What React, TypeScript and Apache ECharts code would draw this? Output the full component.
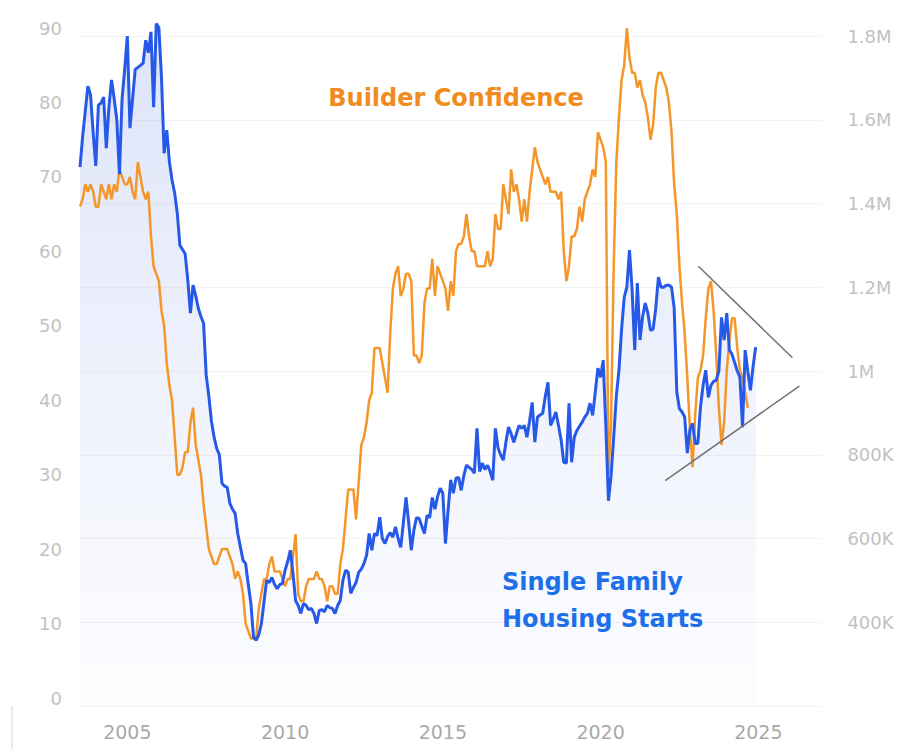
import React, { useEffect, useRef } from 'react';
import * as echarts from 'echarts';

// Monthly series, first value = July 2003
const START_YEAR = 2003;
const START_MONTH = 7;

// NAHB builder confidence index (left axis)
const builderConfidence = [
  66, 67, 69, 68, 69, 68, 66, 66, 69, 68, 67, 69,
  67, 69, 68, 71, 70, 69, 69, 70, 68, 67, 72, 70,
  68, 67, 68, 62, 58, 57, 56, 52, 50, 45, 42, 40,
  35, 30, 30, 31, 33, 33, 37, 39, 34, 32, 30, 26,
  23, 20, 19, 18, 18, 19, 20, 20, 20, 19, 18, 16,
  17, 16, 14, 10, 9, 8, 8, 8, 12, 14, 16, 16,
  18, 19, 17, 17, 17, 16, 15, 16, 16, 19, 22, 14,
  13, 13, 15, 16, 16, 16, 17, 16, 16, 15, 13, 15,
  15, 14, 14, 18, 20, 24, 28, 28, 28, 24, 29, 34,
  35, 37, 40, 41, 47, 47, 47, 45, 43, 41, 49, 55,
  57, 58, 54, 55, 57, 57, 56, 46, 46, 45, 46, 53,
  55, 55, 59, 54, 58, 57, 56, 55, 52, 56, 54, 60,
  61, 61, 62, 65, 62, 60, 60, 58, 58, 58, 58, 60,
  58, 59, 65, 63, 63, 69, 67, 65, 71, 68, 69, 67,
  64, 67, 64, 68, 71, 74, 72, 71, 70, 69, 70, 68,
  68, 68, 67, 68, 60, 56, 58, 62, 62, 63, 66, 64,
  67, 68, 69, 71, 70, 76, 75, 74, 72, 30, 37, 58,
  72, 78, 83, 85, 90, 86, 84, 84, 82, 83, 81, 80,
  78, 75, 77, 82, 84, 84, 83, 82, 80, 76, 69, 65,
  58, 53, 49, 43, 36, 31, 38, 43, 44, 46, 51, 55,
  56, 52, 46, 39, 34, 37, 44, 48, 51, 51, 47, 44,
  43, 41, 39,
];

// Single family housing starts, thousands (right axis)
const singleFamilyStartsK = [
  1487, 1560, 1620, 1680, 1660, 1570, 1490, 1635, 1640, 1654, 1532, 1630,
  1695, 1650, 1600, 1470, 1650, 1720, 1800, 1580, 1650, 1720, 1725, 1730,
  1735, 1790, 1760, 1810, 1630, 1830, 1820, 1700, 1520, 1575, 1500, 1456,
  1425, 1377, 1300, 1290, 1280, 1217, 1138, 1205, 1180, 1150, 1130, 1114,
  990, 940, 880, 842, 815, 800, 732, 725, 722, 684, 670, 660,
  612, 580, 548, 540, 490, 445, 364, 357, 370, 397, 450, 500,
  495, 507, 490, 480, 490, 493, 524, 545, 572, 517, 452, 440,
  421, 445, 440, 430, 433, 421, 397, 428, 430, 425, 440, 435,
  433, 421, 440, 452, 500, 524, 520, 469, 483, 495, 519, 527,
  540, 560, 612, 572, 612, 607, 651, 600, 588, 605, 614, 603,
  628, 600, 579, 638, 698, 640, 572, 620, 650, 648, 630, 612,
  655, 650, 698, 670, 700, 720, 708, 588, 667, 740, 708, 744,
  746, 715, 750, 775, 770, 765, 756, 863, 760, 780, 765, 775,
  760, 739, 863, 816, 800, 787, 830, 866, 850, 830, 850, 870,
  863, 870, 842, 880, 925, 830, 890, 895, 899, 940, 973, 870,
  885, 902, 870, 835, 782, 780, 923, 782, 842, 858, 868, 878,
  890, 899, 923, 894, 950, 1007, 985, 1026, 870, 690, 750, 842,
  940, 1002, 1100, 1176, 1200, 1289, 1193, 1050, 1210, 1074, 1130, 1162,
  1138, 1097, 1100, 1150, 1224, 1200, 1200, 1205, 1205, 1200, 1150, 950,
  910, 902, 890, 804, 860, 875, 827, 827, 913, 966, 1002, 937,
  966, 975, 978, 1000, 1128, 1074, 1138, 1050, 1040, 1020, 1000, 985,
  866, 1050, 1000, 954, 1010, 1057,
];

const xTickYears = [2005, 2010, 2015, 2020, 2025];
const xRange = [2003.5, 2027];
const leftAxis = { min: 0, max: 90, interval: 10 };
const rightAxis = { min: 200000, max: 1800000, interval: 200000 };

// Triangle (converging trend) annotation, in [year, confidence] units
const trendUpper = [[2023.1, 58.0], [2026.08, 45.7]];
const trendLower = [[2022.05, 29.2], [2026.3, 41.9]];

const labelBuilder = 'Builder Confidence';
const labelStarts = ['Single Family', 'Housing Starts'];

const ORANGE = '#f5962a';
const BLUE = '#2759e8';
const FONT = '"DejaVu Sans", Verdana, sans-serif';

const toYear = (i: number) => START_YEAR + (START_MONTH - 1 + i) / 12;

export default function App() {
  const ref = useRef<HTMLDivElement>(null);

  useEffect(() => {
    if (!ref.current) return;
    const chart = echarts.init(ref.current, null, { renderer: 'svg' });

    const orangeData = builderConfidence.map((v, i) => [toYear(i), v]);
    const blueData = singleFamilyStartsK.map((v, i) => [toYear(i), v * 1000]);

    const option: any = {
      animation: false,
      backgroundColor: '#ffffff',
      grid: [
        { left: 80, top: 28, width: 741.4, height: 670, containLabel: false, outerBoundsMode: 'none' },
        { left: 80, top: 36, width: 741.4, height: 670, containLabel: false, outerBoundsMode: 'none' },
      ],
      xAxis: [
        {
          gridIndex: 0,
          type: 'value',
          min: xRange[0],
          max: xRange[1],
          axisLine: { show: false },
          axisTick: { show: false },
          splitLine: { show: false },
          axisLabel: {
            customValues: xTickYears,
            formatter: (v: number) => String(Math.round(v)),
            margin: 24,
            color: '#a9a9a9',
            fontSize: 19,
            fontFamily: FONT,
          },
        },
        {
          gridIndex: 1,
          type: 'value',
          min: xRange[0],
          max: xRange[1],
          show: false,
        },
      ],
      yAxis: [
        {
          gridIndex: 0,
          type: 'value',
          position: 'left',
          min: leftAxis.min,
          max: leftAxis.max,
          interval: leftAxis.interval,
          axisLine: { show: false },
          axisTick: { show: false },
          splitLine: { show: false },
          axisLabel: {
            margin: 18,
            color: '#c2c2c2',
            fontSize: 18,
            fontFamily: FONT,
          },
        },
        {
          gridIndex: 1,
          type: 'value',
          position: 'right',
          min: rightAxis.min,
          max: rightAxis.max,
          interval: rightAxis.interval,
          axisLine: { show: false },
          axisTick: { show: false },
          splitLine: { show: true, lineStyle: { color: '#f3f3f3', width: 1 } },
          axisLabel: {
            showMinLabel: false,
            margin: 26,
            color: '#c2c2c2',
            fontSize: 18,
            fontFamily: FONT,
            formatter: (v: number) =>
              v >= 1000000 ? `${Math.round(v / 100000) / 10}M` : `${Math.round(v / 1000)}K`,
          },
        },
      ],
      series: [
        {
          name: 'starts-area',
          type: 'line',
          xAxisIndex: 1,
          yAxisIndex: 1,
          data: blueData,
          symbol: 'none',
          silent: true,
          clip: false,
          lineStyle: { width: 0, opacity: 0 },
          areaStyle: {
            color: {
              type: 'linear',
              x: 0,
              y: 0,
              x2: 0,
              y2: 1,
              colorStops: [
                { offset: 0, color: 'rgba(95,125,228,0.30)' },
                { offset: 0.5, color: 'rgba(95,125,228,0.15)' },
                { offset: 1, color: 'rgba(95,125,228,0.02)' },
              ],
            },
          },
          z: 1,
        },
        {
          name: 'Builder Confidence',
          type: 'line',
          xAxisIndex: 0,
          yAxisIndex: 0,
          data: orangeData,
          symbol: 'none',
          clip: false,
          lineStyle: { color: ORANGE, width: 2.5 },
          z: 2,
          markLine: {
            silent: true,
            symbol: ['none', 'none'],
            label: { show: false },
            lineStyle: { color: '#727272', width: 1.5, type: 'solid' },
            data: [
              [{ coord: trendUpper[0] }, { coord: trendUpper[1] }],
              [{ coord: trendLower[0] }, { coord: trendLower[1] }],
            ],
          },
        },
        {
          name: 'Single Family Housing Starts',
          type: 'line',
          xAxisIndex: 1,
          yAxisIndex: 1,
          data: blueData,
          symbol: 'none',
          clip: false,
          lineStyle: { color: BLUE, width: 3 },
          z: 3,
        },
      ],
      graphic: [
        {
          type: 'text',
          x: 456,
          y: 98,
          z: 10,
          style: {
            text: labelBuilder,
            fill: '#f08c1e',
            font: `bold 24px ${FONT}`,
            textAlign: 'center',
            align: 'center',
            textVerticalAlign: 'middle',
            verticalAlign: 'middle',
          },
        },
        {
          type: 'text',
          x: 502,
          y: 582,
          z: 10,
          style: {
            text: labelStarts[0],
            fill: '#1e70ea',
            font: `bold 24px ${FONT}`,
            textAlign: 'left',
            align: 'left',
            textVerticalAlign: 'middle',
            verticalAlign: 'middle',
          },
        },
        {
          type: 'text',
          x: 502,
          y: 619,
          z: 10,
          style: {
            text: labelStarts[1],
            fill: '#1e70ea',
            font: `bold 24px ${FONT}`,
            textAlign: 'left',
            align: 'left',
            textVerticalAlign: 'middle',
            verticalAlign: 'middle',
          },
        },
        {
          type: 'line',
          shape: { x1: 12, y1: 706, x2: 12, y2: 749 },
          style: { stroke: '#e2e2e2', lineWidth: 1.5 },
        },
      ],
    };

    chart.setOption(option);
    return () => chart.dispose();
  }, []);

  return (
    <div
      ref={ref}
      style={{ position: 'fixed', left: 0, top: 0, width: 898, height: 749, background: '#fff' }}
    />
  );
}
